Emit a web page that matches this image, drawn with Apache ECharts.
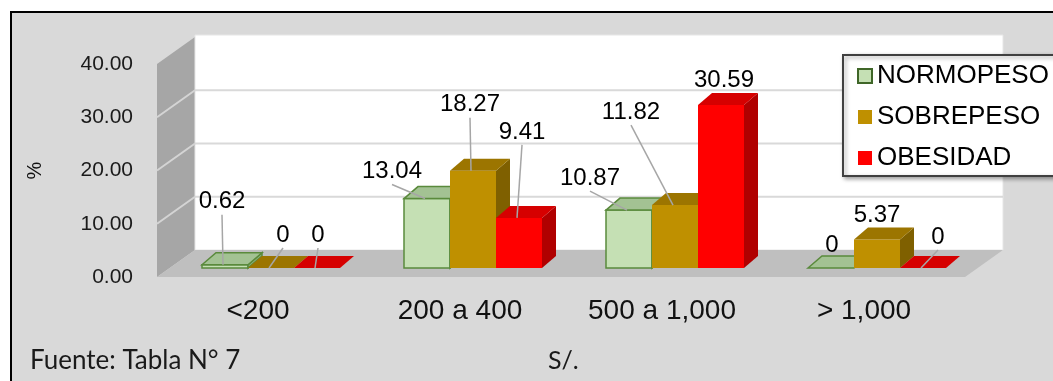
<!DOCTYPE html>
<html>
<head>
<meta charset="utf-8">
<script src="https://cdn.jsdelivr.net/npm/echarts@6/dist/echarts.min.js"></script>
<style>
  html, body { margin: 0; padding: 0; background: #fff; }
  #chart { width: 1053px; height: 381px; }
</style>
</head>
<body>
<div id="chart"></div>
<script>
const categories = ['<200', '200 a 400', '500 a 1,000', '> 1,000'];
const seriesNames = ['NORMOPESO', 'SOBREPESO', 'OBESIDAD'];
const normopeso = [0.62, 13.04, 10.87, 0];
const sobrepeso = [0, 18.27, 11.82, 5.37];
const obesidad = [0, 9.41, 30.59, 0];
const yTicks = [10, 20, 30];

// label offset from the bar's top front edge, and whether a leader line is drawn
const labelNudge = [
  [[-3, -63, true], [-35, -27, true], [-39, -32, true], [1, -23, false]],
  [[12, -33, true], [-3, -66, true], [-44, -93, true], [0, -24, false]],
  [[1, -33, true], [3, -86, true], [3, -25, false], [15, -31, true]]
];

const looks = [
  { front: '#c5e0b4', top: '#a3c293', side: '#8db07a', stroke: '#5a8a3c' },
  { front: '#bf9000', top: '#9c7500', side: '#7f6000', stroke: null },
  { front: '#ff0000', top: '#d60000', side: '#b00000', stroke: null }
];

// fake 3d depth (px)
const WALL_DX = 38, WALL_DY = -27;
const FRONT_DX = 13, FRONT_DY = -9;
const BAR_DX = 14, BAR_DY = -12;
const BAR_W = 46;
const FONT = 'Liberation Sans';

const chart = echarts.init(document.getElementById('chart'));

function wallSeries() {
  return {
    type: 'custom',
    silent: true,
    z: 1,
    data: [[0, 0]],
    renderItem(params, api) {
      const cs = params.coordSys;
      const x0 = cs.x, x1 = cs.x + cs.width;
      const yb = api.coord([0, 0])[1];
      const yt = api.coord([0, 40])[1];
      const kids = [
        { type: 'polygon', shape: { points: [[x0, yt], [x0 + WALL_DX, yt + WALL_DY], [x0 + WALL_DX, yb + WALL_DY], [x0, yb]] },
          style: { fill: '#a6a6a6' } },
        { type: 'rect', shape: { x: x0 + WALL_DX, y: yt + WALL_DY - 2, width: x1 - x0, height: yb - yt + 2 },
          style: { fill: '#ffffff', stroke: '#e6e6e6', lineWidth: 1 } }
      ];
      yTicks.forEach(t => {
        const y = api.coord([0, t])[1];
        kids.push({ type: 'line', shape: { x1: x0 + WALL_DX, y1: y + WALL_DY, x2: x1 + WALL_DX, y2: y + WALL_DY },
          style: { stroke: '#d9d9d9', lineWidth: 2 } });
        kids.push({ type: 'line', shape: { x1: x0, y1: y, x2: x0 + WALL_DX, y2: y + WALL_DY },
          style: { stroke: '#d4d4d4', lineWidth: 2 } });
      });
      kids.push({ type: 'polygon', shape: { points: [[x0, yb], [x0 + WALL_DX, yb + WALL_DY], [x1 + WALL_DX, yb + WALL_DY], [x1, yb]] },
        style: { fill: '#bfbfbf' } });
      return { type: 'group', children: kids };
    }
  };
}

function barSeries(k, values) {
  const look = looks[k];
  return {
    name: seriesNames[k],
    type: 'custom',
    z: 2,
    itemStyle: { color: look.front },
    data: values.map((v, i) => [i, v]),
    encode: { x: 0, y: 1 },
    renderItem(params, api) {
      const i = api.value(0), v = api.value(1);
      const base = api.coord([i, 0]);
      const tip = api.coord([i, v]);
      const xl = base[0] + FRONT_DX + (k - 1.5) * BAR_W;
      const xr = xl + BAR_W;
      const yb = base[1] + FRONT_DY;
      const yt = tip[1] + FRONT_DY;
      const stroke = look.stroke || 'none';
      const lw = look.stroke ? 1.5 : 0;
      const kids = [];
      if (v > 0) {
        kids.push({ type: 'rect', shape: { x: xl, y: yt, width: BAR_W, height: yb - yt },
          style: { fill: look.front, stroke, lineWidth: lw } });
        kids.push({ type: 'polygon', shape: { points: [[xr, yt], [xr + BAR_DX, yt + BAR_DY], [xr + BAR_DX, yb + BAR_DY], [xr, yb]] },
          style: { fill: look.side, stroke, lineWidth: lw } });
      }
      kids.push({ type: 'polygon', shape: { points: [[xl, yt], [xl + BAR_DX, yt + BAR_DY], [xr + BAR_DX, yt + BAR_DY], [xr, yt]] },
        style: { fill: look.top, stroke, lineWidth: lw } });

      const nudge = labelNudge[k][i];
      const cx = (xl + xr) / 2;
      const lx = cx + nudge[0], ly = yt + nudge[1];
      if (nudge[2]) {
        kids.push({ type: 'line', z2: 99, shape: { x1: lx, y1: ly + 13, x2: cx - 2, y2: yt },
          style: { stroke: '#a6a6a6', lineWidth: 1.5 } });
      }
      kids.push({ type: 'text', z2: 100, style: {
        text: String(v), x: lx, y: ly, align: 'center', verticalAlign: 'middle',
        fontSize: 24, fontFamily: FONT, fill: '#000'
      } });
      return { type: 'group', children: kids };
    }
  };
}

const option = {
  backgroundColor: '#ffffff',
  animation: false,
  graphic: [
    { type: 'rect', left: 10, top: 11, z: -10, silent: true,
      shape: { width: 1100, height: 400 },
      style: { fill: '#d9d9d9', stroke: '#000', lineWidth: 2 } },
    // legend box runs off the right edge in the original
    { type: 'rect', left: 842, top: 54, z: 3, silent: true,
      shape: { width: 260, height: 121 },
      style: { fill: '#ffffff', stroke: '#404040', lineWidth: 2,
        shadowColor: 'rgba(0,0,0,0.35)', shadowBlur: 4, shadowOffsetX: 2, shadowOffsetY: 2 } },
    { type: 'text', left: 30, top: 348, silent: true,
      style: { text: 'Fuente: Tabla N° 7', fontSize: 26, fontFamily: 'Lato', fill: '#1a1a1a' } },
    { type: 'text', left: 548, top: 348, silent: true,
      style: { text: 'S/.', fontSize: 25, fontFamily: 'Lato', fill: '#1a1a1a' } }
  ],
  legend: {
    orient: 'vertical',
    left: 842,
    top: 54,
    padding: [9, 10, 9, 15],
    itemGap: 15,
    itemWidth: 14,
    itemHeight: 14,
    z: 5,
    textStyle: { fontSize: 26, fontFamily: FONT, color: '#000' },
    data: [
      { name: 'NORMOPESO', icon: 'rect', itemStyle: { color: '#c5e0b4', borderColor: '#3f6628', borderWidth: 2 } },
      { name: 'SOBREPESO', icon: 'rect', itemStyle: { color: '#bf9000' } },
      { name: 'OBESIDAD', icon: 'rect', itemStyle: { color: '#ff0000' } }
    ]
  },
  grid: { left: 157, top: 64, width: 808, height: 213 },
  xAxis: {
    type: 'category',
    data: categories,
    axisLine: { show: false },
    axisTick: { show: false },
    axisLabel: { interval: 0, margin: 20, fontSize: 28, fontFamily: FONT, color: '#111' }
  },
  yAxis: {
    type: 'value',
    min: 0,
    max: 40,
    interval: 10,
    name: '%',
    nameLocation: 'middle',
    nameRotate: 90,
    nameGap: 112,
    nameTextStyle: { fontSize: 20, fontFamily: FONT, color: '#111' },
    axisLine: { show: false },
    axisTick: { show: false },
    splitLine: { show: false },
    axisLabel: { margin: 24, fontSize: 21, fontFamily: FONT, color: '#1a1a1a', formatter: v => v.toFixed(2) }
  },
  series: [
    wallSeries(),
    barSeries(0, normopeso),
    barSeries(1, sobrepeso),
    barSeries(2, obesidad)
  ]
};

chart.setOption(option);
</script>
</body>
</html>
